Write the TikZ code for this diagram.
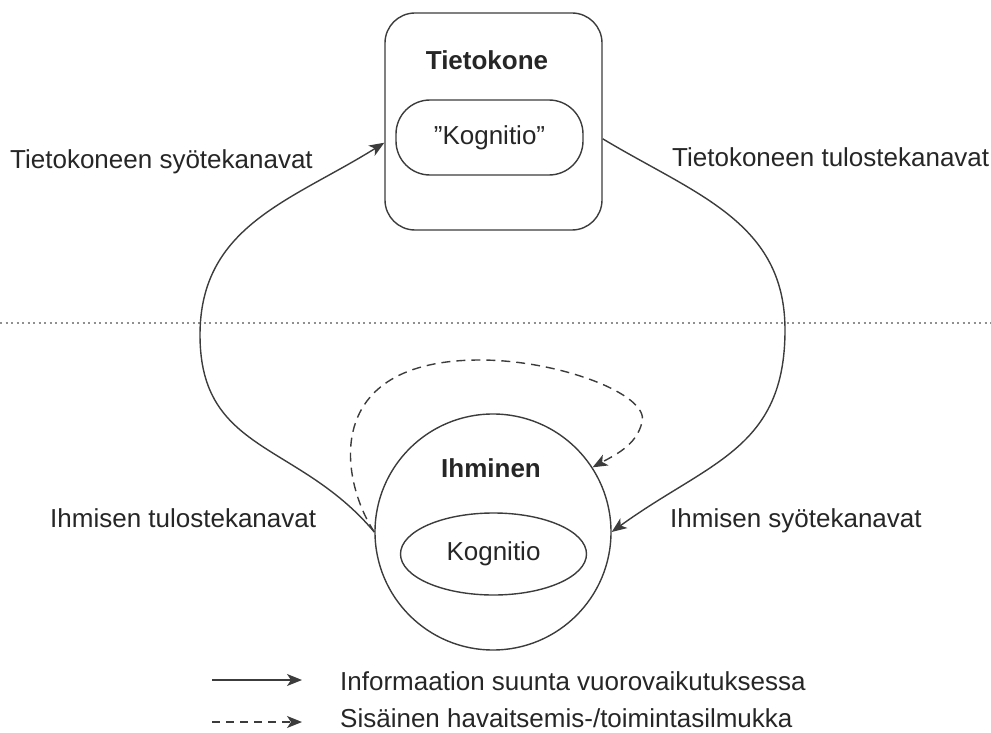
\documentclass[tikz,border=0pt]{standalone}
\usepackage{fontspec}
\setmainfont{Liberation Sans}
\usetikzlibrary{arrows.meta,shapes.geometric}

\definecolor{ink}{HTML}{262626}
\definecolor{wire}{HTML}{3C3C3C}
\definecolor{guide}{HTML}{909090}

\tikzset{
  lbl/.style={text=ink, inner sep=0pt, font=\fontsize{26}{30}\selectfont},
  title/.style={lbl, font=\fontsize{26}{30}\selectfont\bfseries},
  shell/.style={draw=wire, line width=1.4pt},
  tip/.style={-{Stealth[length=15pt,width=12pt,inset=4pt]}},
  flow/.style={draw=wire, line width=1.4pt, tip},
  loop/.style={draw=wire, line width=1.4pt, dash pattern=on 9pt off 6pt, tip},
  divider/.style={draw=guide, line width=1.6pt, dash pattern=on 2pt off 3.5pt},
}

\begin{document}
\begin{tikzpicture}[x=1pt,y=-1pt]
  \useasboundingbox (0,0) rectangle (991,733);

  % horizontal divider between machine and human
  \coordinate (divL) at (0,323);
  \coordinate (divR) at (991,323);
  \draw[divider] (divL) -- (divR);

  % computer
  \node[shell, rectangle, rounded corners=30pt, minimum width=217pt,
        minimum height=217pt, inner sep=0pt] (tk) at (493.5,121.5) {};
  \node[title, anchor=base] (tkTitle) at (487,70) {Tietokone};
  \node[shell, lbl, rectangle, rounded corners=34pt, minimum width=187pt,
        minimum height=75pt] (tkCog) at (489.5,137.5) {”Kognitio”};

  % human
  \node[shell, circle, minimum size=236pt, inner sep=0pt] (ih) at (493,532) {};
  \node[title, anchor=base] (ihTitle) at (491,477) {Ihminen};
  \node[shell, lbl, ellipse, minimum width=186pt, minimum height=82pt,
        inner sep=0pt] (ihCog) at (493.5,554) {Kognitio};

  % information flow between the two, each arc through its outermost point
  \coordinate (leftMid) at (200,335);
  \coordinate (rightMid) at (785,330);
  \draw[flow] (ih.west) to[out=130, in=-90, looseness=1.15] (leftMid)
              to[out=90, in=212, looseness=1.05] (tk.191);
  \draw[flow] (tk.351) to[out=-31, in=90, looseness=1.05] (rightMid)
              to[out=-90, in=36, looseness=1.15] (ih.east);

  % internal perception/action loop
  \coordinate (loopTop) at (480,360);
  \coordinate (loopRight) at (642,422);
  \draw[loop] (ih.west) .. controls (340,480) and (320,360) .. (loopTop)
              .. controls (560,360) and (650,395) .. (loopRight)
              .. controls (637,445) and (615,455) .. (ih.33);

  % channel labels
  \node[lbl, anchor=base west] (tkIn)  at (10,168)  {Tietokoneen syötekanavat};
  \node[lbl, anchor=base west] (tkOut) at (672,167) {Tietokoneen tulostekanavat};
  \node[lbl, anchor=base west] (ihOut) at (50,527)  {Ihmisen tulostekanavat};
  \node[lbl, anchor=base west] (ihIn)  at (670,527) {Ihmisen syötekanavat};

  % legend
  \coordinate (legA) at (212,680);
  \coordinate (legB) at (302,680);
  \coordinate (legC) at (212,722);
  \coordinate (legD) at (302,722);
  \draw[flow] (legA) -- (legB);
  \draw[loop, dash pattern=on 8pt off 6pt] (legC) -- (legD);
  \node[lbl, anchor=base west] (legFlow) at (340,690) {Informaation suunta vuorovaikutuksessa};
  \node[lbl, anchor=base west] (legLoop) at (340,727) {Sisäinen havaitsemis-/toimintasilmukka};
\end{tikzpicture}
\end{document}
